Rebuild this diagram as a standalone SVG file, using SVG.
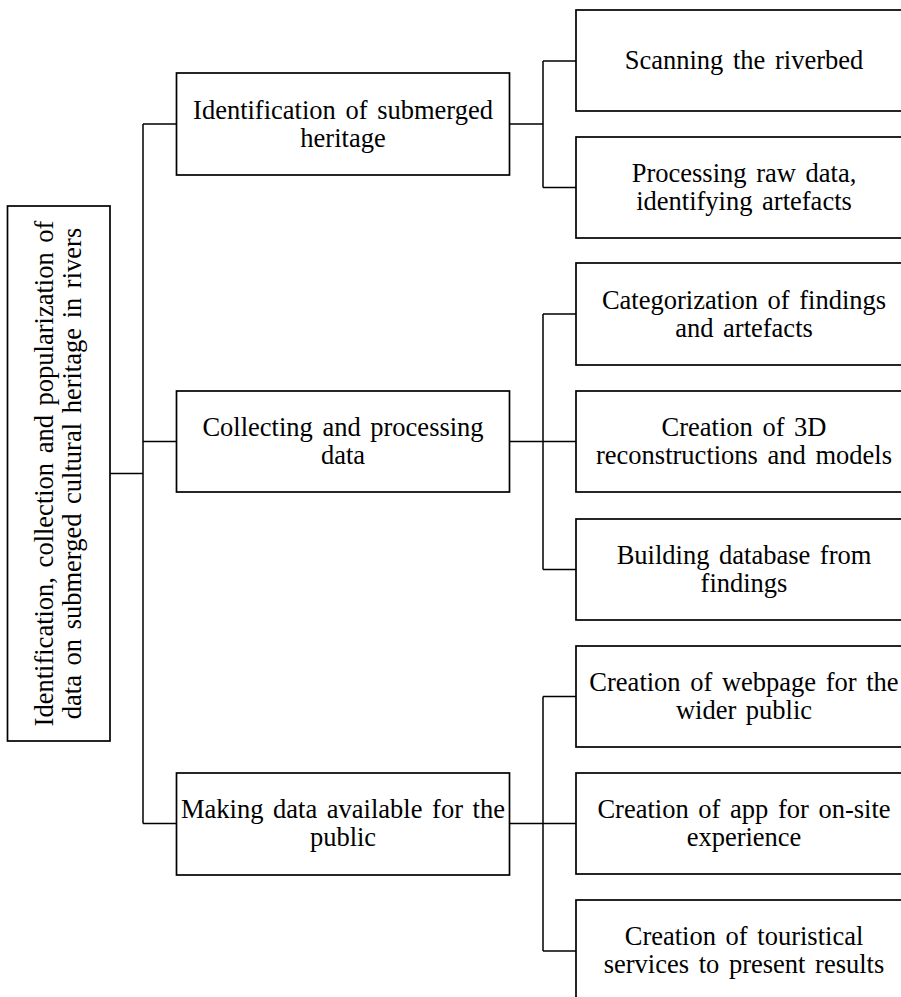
<svg xmlns="http://www.w3.org/2000/svg" width="901" height="997" viewBox="0 0 901 997">
<style>
.box{fill:#fff;stroke:#000;stroke-width:1.7}
.ln{fill:none;stroke:#000;stroke-width:1.5}
text{font-family:"Liberation Serif","Times New Roman",serif;font-size:26.5px;fill:#000;text-anchor:middle;word-spacing:3px}
</style>
<rect width="901" height="997" fill="#fff"/>
<g id="connectors" class="ln">
<path d="M110,473.5 H143 M143,124 V823.5 M143,124 H176.5 M143,441.5 H176.5 M143,823.5 H176.5"/>
<path d="M509.5,124 H543 M543,61 V187.5 M543,61 H576 M543,187.5 H576"/>
<path d="M509.5,441.5 H543 M543,314 V569.5 M543,314 H576 M543,441.5 H576 M543,569.5 H576"/>
<path d="M509.5,823.5 H543 M543,696.5 V951 M543,696.5 H576 M543,823.5 H576 M543,951 H576"/>
</g>
<g id="root">
<rect class="box" x="7.5" y="206" width="102.5" height="535"/>
<text transform="translate(58.7,473.5) rotate(-90)"><tspan x="0" y="-5.5">Identification, collection and popularization of</tspan><tspan x="0" y="22.5">data on submerged cultural heritage in rivers</tspan></text>
</g>
<g id="n1">
<rect class="box" x="176.5" y="73" width="333" height="102"/>
<text><tspan x="343" y="118.5">Identification of submerged</tspan><tspan x="343" y="146.5">heritage</tspan></text>
</g>
<g id="n2">
<rect class="box" x="176.5" y="391" width="333" height="101"/>
<text><tspan x="343" y="436">Collecting and processing</tspan><tspan x="343" y="464">data</tspan></text>
</g>
<g id="n3">
<rect class="box" x="176.5" y="773" width="333" height="102"/>
<text><tspan x="343" y="818">Making data available for the</tspan><tspan x="343" y="846">public</tspan></text>
</g>
<g id="n1a">
<rect class="box" x="576" y="10" width="340" height="101"/>
<text x="744" y="69">Scanning the riverbed</text>
</g>
<g id="n1b">
<rect class="box" x="576" y="137" width="340" height="101"/>
<text><tspan x="744" y="182">Processing raw data,</tspan><tspan x="744" y="210">identifying artefacts</tspan></text>
</g>
<g id="n2a">
<rect class="box" x="576" y="263" width="340" height="102"/>
<text><tspan x="744" y="308.5">Categorization of findings</tspan><tspan x="744" y="336.5">and artefacts</tspan></text>
</g>
<g id="n2b">
<rect class="box" x="576" y="391" width="340" height="101"/>
<text><tspan x="744" y="436">Creation of 3D</tspan><tspan x="744" y="464">reconstructions and models</tspan></text>
</g>
<g id="n2c">
<rect class="box" x="576" y="519" width="340" height="101"/>
<text><tspan x="744" y="564">Building database from</tspan><tspan x="744" y="592">findings</tspan></text>
</g>
<g id="n3a">
<rect class="box" x="576" y="646" width="340" height="101"/>
<text><tspan x="744" y="691">Creation of webpage for the</tspan><tspan x="744" y="719">wider public</tspan></text>
</g>
<g id="n3b">
<rect class="box" x="576" y="773" width="340" height="101"/>
<text><tspan x="744" y="818">Creation of app for on-site</tspan><tspan x="744" y="846">experience</tspan></text>
</g>
<g id="n3c">
<rect class="box" x="576" y="900" width="340" height="101"/>
<text><tspan x="744" y="945">Creation of touristical</tspan><tspan x="744" y="973">services to present results</tspan></text>
</g>
</svg>
